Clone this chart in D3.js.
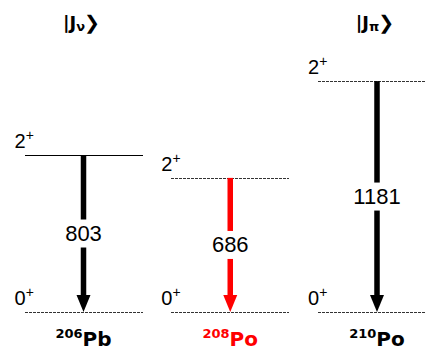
<!DOCTYPE html>
<html>
<head>
<meta charset="utf-8">
<script src="https://cdn.jsdelivr.net/npm/d3@7"></script>
<style>
  html, body { margin: 0; padding: 0; background: #fff; }
  svg { display: block; }
</style>
</head>
<body>
<svg id="chart" width="425" height="351"></svg>
<script>
// Level schemes: first excited 2+ state above the 0+ ground state
const massNumbers = ["206", "208", "210"];
const elements = ["Pb", "Po", "Po"];
const energies = [803, 686, 1181];          // keV, 2+ -> 0+ transition
const colors = ["#000000", "#ff0000", "#000000"];
const headerSubs = ["ν", null, "π"];        // |J_ν> and |J_π> configurations
const groundSpin = "0";
const excitedSpin = "2";
const parity = "+";

const svg = d3.select("#chart");

const x = d3.scalePoint()
  .domain(d3.range(massNumbers.length))
  .range([83.5, 377]);

const y = d3.scaleLinear()
  .domain([0, 1200])
  .range([312, 77.4]);

const halfWidth = 59;
const numFont = "'Liberation Sans', Arial, Helvetica, sans-serif";
const boldFont = "'DejaVu Sans', Verdana, sans-serif";

const cols = svg.selectAll("g.col")
  .data(d3.range(massNumbers.length))
  .join("g")
  .attr("class", "col");

// level lines
function levelLine(g, yv, dashed) {
  g.append("line")
    .attr("x1", d => x(d) - halfWidth)
    .attr("x2", d => x(d) + halfWidth)
    .attr("y1", yv)
    .attr("y2", yv)
    .attr("stroke", dashed ? "#333" : "#000")
    .attr("stroke-width", 1)
    .attr("stroke-dasharray", dashed ? "3,1" : null)
    .attr("shape-rendering", "crispEdges");
}
cols.each(function(d) {
  const g = d3.select(this);
  const yTop = Math.round(y(energies[d])) + 0.5;
  levelLine(g, Math.round(y(0)) + 0.5, true);
  levelLine(g, yTop, d !== 0);
});

// spin-parity labels
function spinLabel(g, spin, yAccessor) {
  const t = g.append("text")
    .attr("x", d => x(d) - halfWidth - 10)
    .attr("y", yAccessor)
    .attr("font-family", numFont)
    .attr("font-size", 20)
    .attr("fill", "#000");
  t.append("tspan").text(spin);
  t.append("tspan")
    .attr("font-size", 14)
    .attr("dy", -8)
    .text(parity);
}
spinLabel(cols, excitedSpin, d => y(energies[d]) - 7);
spinLabel(cols, groundSpin, d => y(0) - 7);

// transition arrows
const headLen = 17, headHalf = 7, shaft = 5.5;
cols.append("rect")
  .attr("x", d => x(d) - shaft / 2)
  .attr("y", d => y(energies[d]))
  .attr("width", shaft)
  .attr("height", d => y(0) - headLen - y(energies[d]) + 1)
  .attr("fill", d => colors[d]);

cols.append("path")
  .attr("d", d => {
    const cx = x(d), tip = y(0);
    return `M${cx - headHalf},${tip - headLen}L${cx + headHalf},${tip - headLen}L${cx},${tip}Z`;
  })
  .attr("fill", d => colors[d]);

// energy labels on a white patch that interrupts the arrow
cols.each(function(d) {
  const g = d3.select(this);
  const cy = (y(energies[d]) + y(0)) / 2;
  const bg = g.append("rect").attr("fill", "#fff");
  const t = g.append("text")
    .attr("x", x(d))
    .attr("y", cy)
    .attr("text-anchor", "middle")
    .attr("dominant-baseline", "central")
    .attr("font-family", numFont)
    .attr("font-size", 22)
    .attr("fill", "#000")
    .text(energies[d]);
  const b = t.node().getBBox();
  bg.attr("x", b.x - 1).attr("y", cy - 14).attr("width", b.width + 2).attr("height", 28);
});

// nucleus names
const names = cols.append("text")
  .attr("x", d => x(d))
  .attr("y", 346)
  .attr("text-anchor", "middle")
  .attr("font-family", boldFont)
  .attr("font-weight", "bold")
  .attr("fill", d => colors[d]);
names.append("tspan")
  .attr("font-size", 13)
  .attr("dy", -8)
  .text(d => massNumbers[d]);
names.append("tspan")
  .attr("font-size", 20)
  .attr("dy", 8)
  .text(d => elements[d]);

// configuration headers
const heads = cols.filter(d => headerSubs[d] !== null)
  .append("text")
  .attr("x", d => x(d) - 2)
  .attr("y", 29)
  .attr("text-anchor", "middle")
  .attr("font-family", boldFont)
  .attr("font-weight", "bold")
  .attr("font-size", 18)
  .attr("fill", "#000");
heads.append("tspan").text("|J");
heads.append("tspan").attr("font-size", 13).attr("dy", 2).text(d => headerSubs[d]);
heads.append("tspan").attr("dy", -2).attr("dx", -1).attr("font-size", 19).text("❯");
</script>
</body>
</html>
